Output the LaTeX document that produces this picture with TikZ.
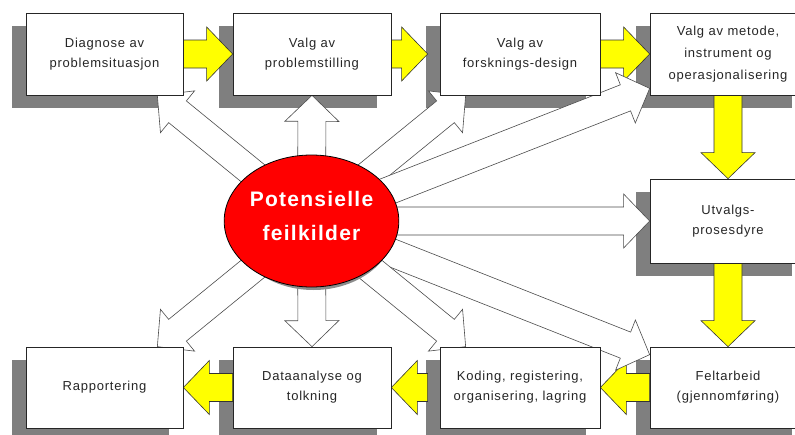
\documentclass[tikz,border=0pt]{standalone}
\usepackage{fontspec}
\setmainfont{Liberation Sans}
\newfontfamily\boxfont[LetterSpace=6]{Liberation Sans}
\newfontfamily\circfont[LetterSpace=6]{Liberation Sans}
\usetikzlibrary{calc,shapes.geometric}
\pgfdeclarelayer{bg}
\pgfdeclarelayer{mid}
\pgfsetlayers{bg,mid,main}
\definecolor{shadowgray}{HTML}{7F7F7F}
\definecolor{arryellow}{HTML}{FFFF00}
\def\arrsw{14pt}
\def\arrhw{27pt}
\def\arrhl{26pt}
\newcommand\blockarrow[3]{%
  \coordinate (ba-b) at ($(#3)!\arrhl!(#2)$);
  \path[#1] ($(#2)!\arrsw!90:(#3)$) -- ($(ba-b)!\arrsw!-90:(#2)$)
    -- ($(ba-b)!\arrhw!-90:(#2)$) -- (#3) -- ($(ba-b)!\arrhw!90:(#2)$)
    -- ($(ba-b)!\arrsw!90:(#2)$) -- ($(#2)!\arrsw!-90:(#3)$) -- cycle;}
\newcommand\boxshadow[1]{%
  \fill[shadowgray] ([shift={(-14,13)}]#1.north west) rectangle ([shift={(-14,13)}]#1.south east);}
\begin{document}
\begin{tikzpicture}[x=1pt,y=-1pt,
  box/.style={draw=black!85, line width=0.7pt, fill=white, minimum height=82pt,
    inner sep=0pt, align=center, text=black!85,
    font={\boxfont\fontsize{13}{20}\selectfont}},
  yarrow/.style={fill=arryellow, draw=black!80, line width=0.6pt, line join=miter},
  warrow/.style={fill=white, draw=black!70, line width=0.6pt, line join=miter}]
\useasboundingbox (0,0) rectangle (795,434);
% boxes
\node[box, minimum width=157pt] (b1) at (104.5,54) {Diagnose av\\problemsituasjon};
\node[box, minimum width=158pt] (b2) at (312,54) {Valg av\\problemstilling};
\node[box, minimum width=160pt] (b3) at (520,54) {Valg av\\forsknings-design};
\node[box, minimum width=156pt, font={\boxfont\fontsize{13}{22}\selectfont}] (b4) at (728,54) {Valg av metode,\\instrument og\\operasjonalisering};
\node[box, minimum width=156pt, minimum height=84pt] (b5) at (728,221) {Utvalgs-\\prosesdyre};
\node[box, minimum width=156pt, minimum height=81pt] (b6) at (728,387.5) {Feltarbeid\\(gjennomføring)};
\node[box, minimum width=160pt, minimum height=81pt] (b7) at (520,387.5) {Koding, registering,\\organisering, lagring};
\node[box, minimum width=158pt, minimum height=81pt] (b8) at (312,387.5) {Dataanalyse og\\tolkning};
\node[box, minimum width=157pt, minimum height=81pt] (b9) at (104.5,387.5) {Rapportering};
% central ellipse
\node[ellipse, draw=black, line width=0.8pt, fill=red, minimum width=165pt, minimum height=132pt,
  inner sep=0pt, align=center, text=white, text depth=11pt,
  font={\circfont\bfseries\fontsize{21}{34}\selectfont}] (circ) at (311.5,221) {Potensielle\\feilkilder};
\begin{pgfonlayer}{bg}
  \foreach \b in {b1,b2,b3,b4,b5,b6,b7,b8,b9} {\boxshadow{\b}}
\end{pgfonlayer}
\begin{pgfonlayer}{mid}
  % yellow flow arrows
  \blockarrow{yarrow}{b1.east}{b2.west}
  \blockarrow{yarrow}{b2.east}{[xshift=-12pt]b3.west}
  \blockarrow{yarrow}{b3.east}{b4.west}
  \blockarrow{yarrow}{b4.south}{b5.north}
  \blockarrow{yarrow}{b5.south}{b6.north}
  \blockarrow{yarrow}{b6.west}{b7.east}
  \blockarrow{yarrow}{[xshift=-12pt]b7.west}{b8.east}
  \blockarrow{yarrow}{b8.west}{b9.east}
  % white arrows from the ellipse
  \blockarrow{warrow}{circ.center}{[xshift=-26pt]b1.south east}
  \blockarrow{warrow}{circ.center}{b2.south}
  \blockarrow{warrow}{circ.center}{[xshift=26pt]b3.south west}
  \blockarrow{warrow}{circ.center}{[yshift=7pt]b4.south west}
  \blockarrow{warrow}{circ.center}{b5.west}
  \blockarrow{warrow}{circ.center}{[yshift=-8pt]b6.north west}
  \blockarrow{warrow}{circ.center}{[xshift=26pt]b7.north west}
  \blockarrow{warrow}{circ.center}{b8.north}
  \blockarrow{warrow}{circ.center}{[xshift=-26pt]b9.north east}
  \fill[black!45] ([shift={(2,3)}]circ.center) ellipse [x radius=82.5, y radius=66];
\end{pgfonlayer}
\end{tikzpicture}
\end{document}
